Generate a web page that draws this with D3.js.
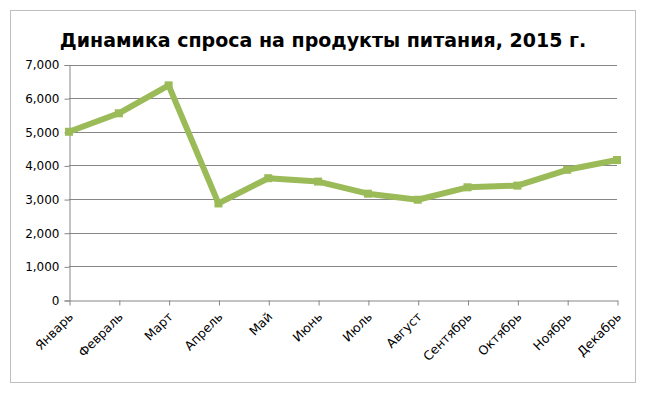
<!DOCTYPE html>
<html>
<head>
<meta charset="utf-8">
<script src="https://cdn.jsdelivr.net/npm/d3@7"></script>
<style>
  body { margin: 0; background: #fff; }
  svg { font-family: "DejaVu Sans", sans-serif; }
</style>
</head>
<body>
<div class="graph"></div>
<script>
// Данные графика
const месяцы = ["Январь", "Февраль", "Март", "Апрель", "Май", "Июнь",
                "Июль", "Август", "Сентябрь", "Октябрь", "Ноябрь", "Декабрь"];
const спрос = [5000, 5550, 6380, 2870, 3620, 3520, 3160, 2980, 3350, 3400, 3870, 4160];
const делениеY = [0, 1000, 2000, 3000, 4000, 5000, 6000, 7000];

const width = 648;
const height = 396;

const svg = d3.select(".graph")
    .append("svg")
    .attr("width", width)
    .attr("height", height);

// Рамка диаграммы
svg.append("rect")
    .attr("x", 10.5).attr("y", 10.5)
    .attr("width", 625).attr("height", 372)
    .attr("fill", "#fff")
    .attr("stroke", "#bfbfbf");

// Заголовок
svg.append("text")
    .attr("x", 323).attr("y", 47)
    .attr("text-anchor", "middle")
    .attr("font-size", 19)
    .attr("font-weight", "bold")
    .text("Динамика спроса на продукты питания, 2015 г.");

const xScale = d3.scalePoint()
    .domain(месяцы)
    .range([69, 617]);

const yScale = d3.scaleLinear()
    .domain([0, 7000])
    .range([300, 64.5]);

// Сетка
svg.append("g")
    .selectAll("line")
    .data(делениеY.filter(d => d > 0))
    .enter()
    .append("line")
    .attr("x1", 69).attr("x2", 617)
    .attr("y1", d => Math.round(yScale(d)) + 0.5)
    .attr("y2", d => Math.round(yScale(d)) + 0.5)
    .attr("stroke", "#868686");

// Ось Y
const yAxis = svg.append("g")
    .attr("transform", "translate(69.5,0.5)")
    .call(d3.axisLeft(yScale).tickValues(делениеY).tickSize(5).tickPadding(5)
        .tickFormat(d3.format(",")));
yAxis.selectAll("path, line").attr("stroke", "#868686");
yAxis.selectAll("text").attr("font-size", 12).attr("fill", "#000")
    .attr("font-family", "DejaVu Sans");

// Ось X
const xAxis = svg.append("g")
    .attr("transform", "translate(0.5,300.5)")
    .call(d3.axisBottom(xScale).tickSize(5).tickSizeOuter(0));
xAxis.selectAll("path, line").attr("stroke", "#868686");
xAxis.selectAll("text")
    .attr("font-size", 12.5)
    .attr("fill", "#000")
    .attr("font-family", "DejaVu Sans")
    .attr("text-anchor", "end")
    .attr("x", 0).attr("y", 0).attr("dy", 0)
    .attr("transform", "translate(4,17) rotate(-45)");

// Линия
const line = d3.line()
    .x((d, i) => xScale(месяцы[i]))
    .y(d => yScale(d));

svg.append("path")
    .datum(спрос)
    .attr("d", line)
    .attr("fill", "none")
    .attr("stroke", "#9bbb59")
    .attr("stroke-width", 6)
    .attr("stroke-linejoin", "round");

// Маркеры
svg.append("g")
    .selectAll("rect")
    .data(спрос)
    .enter()
    .append("rect")
    .attr("x", (d, i) => xScale(месяцы[i]) - 4)
    .attr("y", d => yScale(d) - 4)
    .attr("width", 8).attr("height", 8)
    .attr("fill", "#9bbb59");
</script>
</body>
</html>
